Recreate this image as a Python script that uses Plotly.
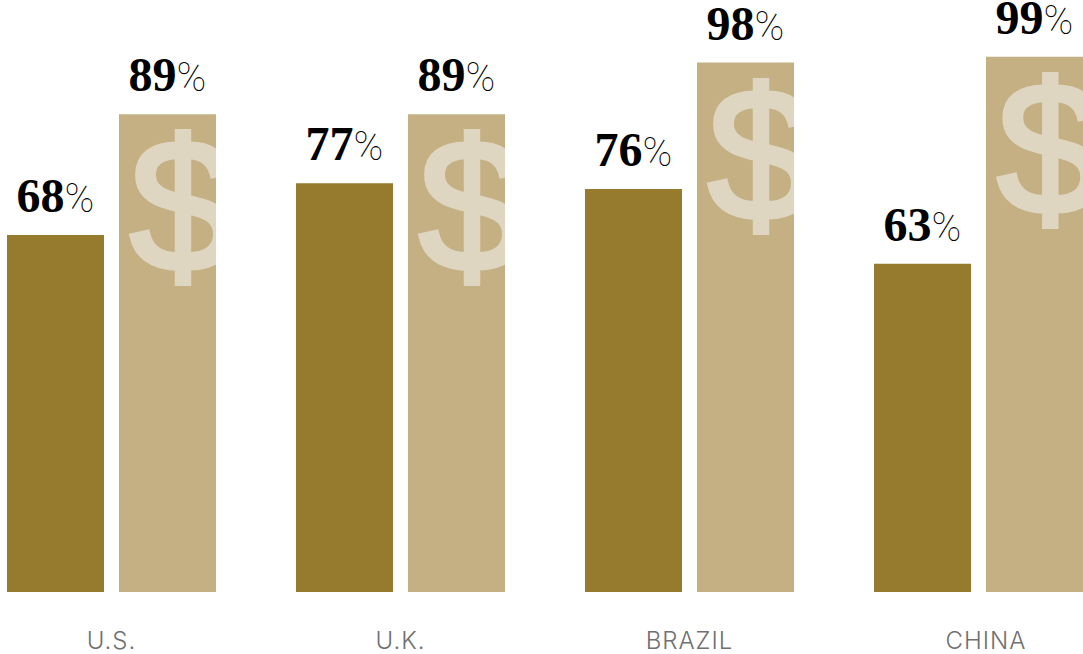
import plotly.graph_objects as go

categories = ["U.S.", "U.K.", "BRAZIL", "CHINA"]
dark_values = [68, 77, 76, 63]
light_values = [89, 89, 98, 99]
tick_positions = [0, 1, 2, 3.026]

DARK = "#967B2F"
LIGHT = "#C4B083"
SYMBOL = "#DFD6C1"
W, H = 1083, 654
BASE_PX = 592
PX_PER_UNIT = 5.75
GROUP_OFFSET = 56 / 289  # bar centre distance from the group centre, in category units
LIGHT_SPANS = [(119, 216), (408, 505), (697, 794), (987, 1083)]
LABEL_LIFT = 11 / PX_PER_UNIT
SYMBOL_DROP = 15 / PX_PER_UNIT


def label(v):
    return (
        f"<b>{v}</b><span style='font-size:40px;font-family:Roboto;font-weight:100'>%</span>"
    )


fig = go.Figure()
fig.add_bar(x=list(range(4)), y=dark_values, marker_color=DARK, marker_line_width=0, showlegend=False)
fig.add_bar(x=list(range(4)), y=light_values, marker_color=LIGHT, marker_line_width=0, showlegend=False)

# value labels above each bar
fig.add_scatter(
    x=[i - GROUP_OFFSET for i in range(4)] + [i + GROUP_OFFSET for i in range(4)],
    y=[v + LABEL_LIFT for v in dark_values + light_values],
    mode="text",
    text=[label(v) for v in dark_values + light_values],
    textposition="top center",
    textfont=dict(family="Liberation Serif", size=48, color="#000000"),
    cliponaxis=False,
    showlegend=False,
)

# dollar signs, each on its own x axis spanning one light bar so the glyph clips at the bar edge
layout_axes = {}
for i, (left, right) in enumerate(LIGHT_SPANS):
    name = f"x{i + 2}"
    fig.add_scatter(
        x=[0.65],
        y=[light_values[i] - SYMBOL_DROP],
        xaxis=name,
        yaxis="y",
        mode="text",
        text=[f"<span style='stroke:{SYMBOL};stroke-width:5px'>$</span>"],
        textposition="bottom center",
        textfont=dict(family="Liberation Sans", size=188, color=SYMBOL),
        cliponaxis=True,
        showlegend=False,
    )
    layout_axes[f"xaxis{i + 2}"] = dict(
        domain=[left / W, right / W], range=[0, 1], visible=False, anchor="y", fixedrange=True,
        automargin=False,
    )

fig.update_layout(
    width=W,
    height=H,
    margin=dict(l=0, r=0, t=0, b=0),
    paper_bgcolor="white",
    plot_bgcolor="rgba(0,0,0,0)",
    barmode="group",
    bargap=65 / 289,
    bargroupgap=15 / 112,
    xaxis=dict(
        domain=[0, 1],
        range=[-111.5 / 289, (W - 111.5) / 289],
        tickvals=tick_positions,
        ticktext=[f"<span style='letter-spacing:1px'>{c}</span>" for c in categories],
        tickfont=dict(family="Inter", size=24, color="#707070", weight=300),
        ticks="outside",
        ticklen=27,
        tickcolor="rgba(0,0,0,0)",
        showgrid=False,
        zeroline=False,
        showline=False,
        automargin=False,
    ),
    yaxis=dict(
        domain=[(H - BASE_PX) / H, 1],
        range=[5.913, 5.913 + BASE_PX / PX_PER_UNIT],
        visible=False,
        showgrid=False,
        zeroline=False,
        automargin=False,
    ),
    **layout_axes,
)

fig.write_html("out.html")
